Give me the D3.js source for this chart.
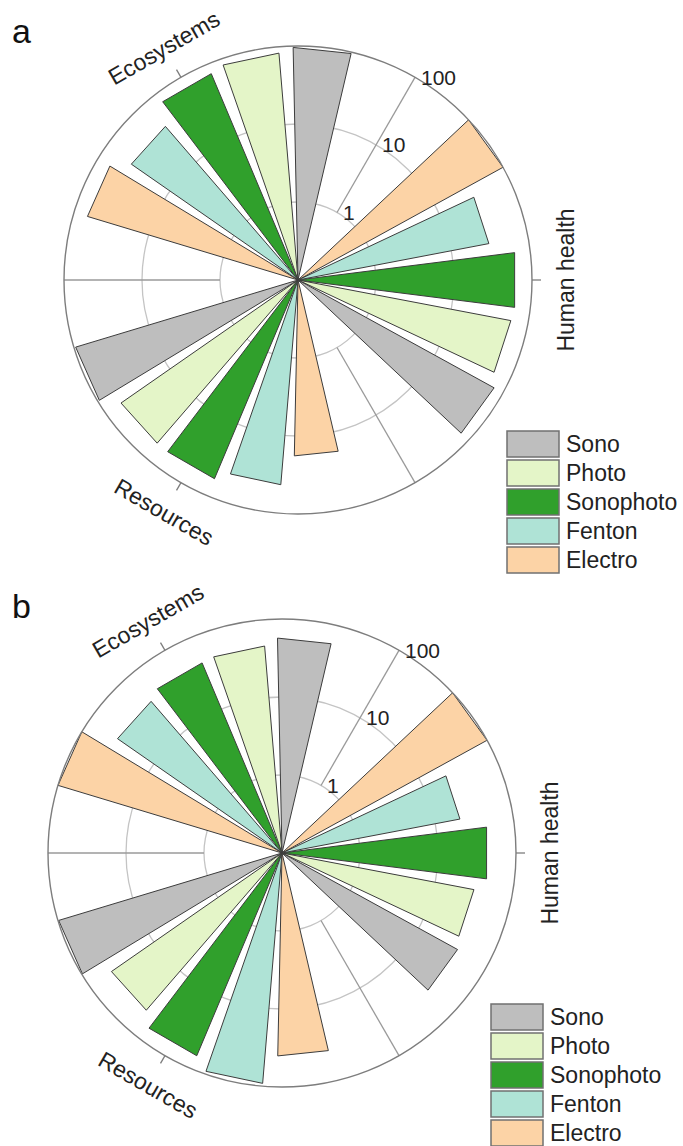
<!DOCTYPE html>
<html>
<head>
<meta charset="utf-8">
<script src="https://cdn.jsdelivr.net/npm/d3@7"></script>
<style>
  body { margin: 0; background: #fff; }
  svg { display: block; font-family: "Liberation Sans", Arial, sans-serif; }
</style>
</head>
<body>
<div id="chart"></div>
<script>
// categories around the circle (clockwise from Human health)
const categories = ['Human health', 'Resources', 'Ecosystems'];
// legend order
const series = ['Sono', 'Photo', 'Sonophoto', 'Fenton', 'Electro'];
// clockwise order of bars inside one category
const barOrder = ['Electro', 'Fenton', 'Sonophoto', 'Photo', 'Sono'];
const colors = ['#bebebe', '#e4f5c8', '#30a02c', '#afe3d6', '#fcd3a6'];
const radialTicks = [1, 10, 100];

// values per series, in category order [Human health, Resources, Ecosystems]
const aSono      = [74, 95, 96];
const aPhoto     = [60, 58, 83];
const aSonophoto = [63, 58, 74];
const aFenton    = [31, 43, 40];
const aElectro   = [100, 18, 66];

const bSono      = [37, 98, 57];
const bPhoto     = [32, 46, 46];
const bSonophoto = [44, 66, 44];
const bFenton    = [21, 92, 37];
const bElectro   = [100, 40, 100];

const width = 683;
const height = 1146;
const R = 234;

const svg = d3.select('#chart')
  .append('svg')
  .attr('width', width)
  .attr('height', height);

const color = d3.scaleOrdinal().domain(series).range(colors);

// angles in degrees, clockwise from north
const angle = d3.scaleBand().domain(categories).range([30, 390]);
const inner = d3.scaleBand().domain(barOrder).range([-45, 45])
  .paddingInner(0.2).paddingOuter(0.1);
const r = d3.scaleLog().domain([0.1, 100]).range([0, R]);

function pt(deg, rad) {
  const a = deg * Math.PI / 180;
  return [rad * Math.sin(a), -rad * Math.cos(a)];
}

function drawPanel(letter, letterPos, cx, cy, rows, legendPos) {
  svg.append('text')
    .attr('x', letterPos[0])
    .attr('y', letterPos[1])
    .style('font-size', '34px')
    .style('fill', '#111')
    .text(letter);

  const g = svg.append('g').attr('transform', `translate(${cx}, ${cy})`);

  // rings for 1 and 10
  g.selectAll('circle.ring')
    .data(radialTicks.slice(0, -1))
    .enter()
    .append('circle')
    .attr('class', 'ring')
    .attr('r', d => r(d))
    .attr('fill', 'none')
    .attr('stroke', '#c4c4c4')
    .attr('stroke-width', 1.3);

  // spokes between categories
  g.selectAll('line.spoke')
    .data(categories)
    .enter()
    .append('line')
    .attr('class', 'spoke')
    .attr('x1', d => pt(angle(d), r(1))[0])
    .attr('y1', d => pt(angle(d), r(1))[1])
    .attr('x2', d => pt(angle(d), R)[0])
    .attr('y2', d => pt(angle(d), R)[1])
    .attr('stroke', '#9a9a9a')
    .attr('stroke-width', 1.3);

  // bars
  const bars = [];
  series.forEach((s, si) => {
    categories.forEach((c, ci) => {
      bars.push({ series: s, category: c, value: rows[si][ci] });
    });
  });

  g.selectAll('path.bar')
    .data(bars)
    .enter()
    .append('path')
    .attr('class', 'bar')
    .attr('d', d => {
      const mid = angle(d.category) + angle.bandwidth() / 2;
      const a0 = mid + inner(d.series);
      const a1 = a0 + inner.bandwidth();
      const p0 = pt(a0, r(d.value));
      const p1 = pt(a1, r(d.value));
      return `M0,0L${p0[0]},${p0[1]}L${p1[0]},${p1[1]}Z`;
    })
    .attr('fill', d => color(d.series))
    .attr('stroke', '#3c3c3c')
    .attr('stroke-width', 1)
    .attr('stroke-linejoin', 'round');

  // outer circle (100)
  g.append('circle')
    .attr('r', r(100))
    .attr('fill', 'none')
    .attr('stroke', '#7d7d7d')
    .attr('stroke-width', 1.4);

  // category ticks outside the circle
  g.selectAll('line.ctick')
    .data(categories)
    .enter()
    .append('line')
    .attr('class', 'ctick')
    .attr('x1', d => pt(angle(d) + angle.bandwidth() / 2, R)[0])
    .attr('y1', d => pt(angle(d) + angle.bandwidth() / 2, R)[1])
    .attr('x2', d => pt(angle(d) + angle.bandwidth() / 2, R + 9)[0])
    .attr('y2', d => pt(angle(d) + angle.bandwidth() / 2, R + 9)[1])
    .attr('stroke', '#7d7d7d')
    .attr('stroke-width', 1.3);

  // radial tick labels along the 30 degree spoke
  g.selectAll('text.rtick')
    .data(radialTicks)
    .enter()
    .append('text')
    .attr('class', 'rtick')
    .attr('x', d => pt(30, r(d))[0] + 6)
    .attr('y', d => pt(30, r(d))[1] + 2)
    .attr('dominant-baseline', 'middle')
    .style('font-size', '21px')
    .style('fill', '#222')
    .text(d => d);

  // category labels, tangent to the circle
  const labelRot = { 'Human health': -90, 'Resources': 30, 'Ecosystems': -30 };
  g.selectAll('text.cat')
    .data(categories)
    .enter()
    .append('text')
    .attr('class', 'cat')
    .attr('transform', d => {
      const p = pt(angle(d) + angle.bandwidth() / 2, 268);
      return `translate(${p[0]}, ${p[1]}) rotate(${labelRot[d]})`;
    })
    .attr('text-anchor', 'middle')
    .attr('dominant-baseline', 'central')
    .style('font-size', '23px')
    .style('fill', '#222')
    .text(d => d);

  // legend
  const legend = svg.selectAll(null)
    .data(series)
    .enter()
    .append('g')
    .attr('transform', (d, i) => `translate(${legendPos[0]}, ${legendPos[1] + i * 29})`);

  legend.append('rect')
    .attr('width', 52)
    .attr('height', 26)
    .attr('fill', d => color(d))
    .attr('stroke', '#707070')
    .attr('stroke-width', 1.5);

  legend.append('text')
    .attr('x', 59)
    .attr('y', 13)
    .attr('dominant-baseline', 'central')
    .style('font-size', '23px')
    .style('fill', '#222')
    .text(d => d);
}

drawPanel('a', [12, 43], 298, 280,
  [aSono, aPhoto, aSonophoto, aFenton, aElectro], [507, 431]);
drawPanel('b', [12, 618], 282, 853,
  [bSono, bPhoto, bSonophoto, bFenton, bElectro], [491, 1004]);
</script>
</body>
</html>
